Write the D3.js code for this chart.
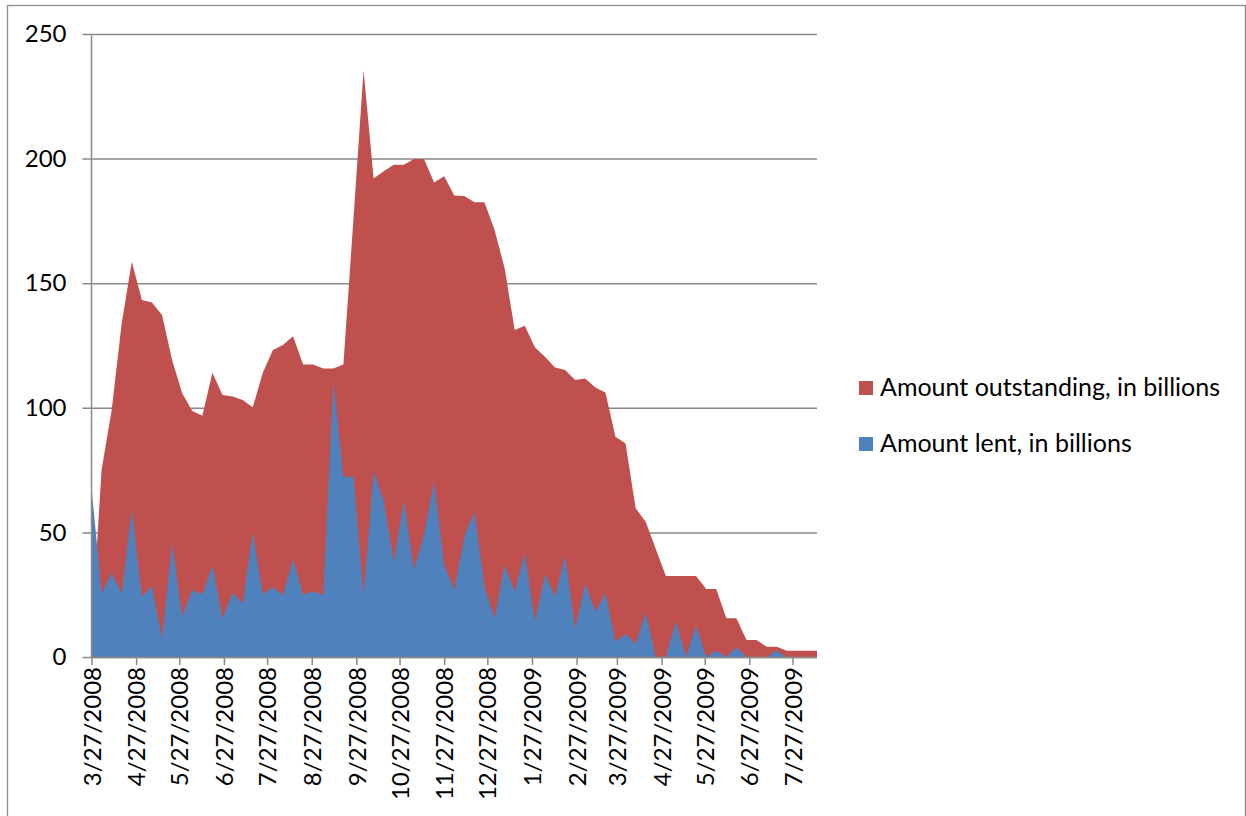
<!DOCTYPE html>
<html>
<head>
<meta charset="utf-8">
<script src="https://cdn.jsdelivr.net/npm/d3@7/dist/d3.min.js"></script>
<style>
  body { margin: 0; background: #fff; }
  svg text { font-family: Lato, "Noto Sans", sans-serif; fill: #000; }
</style>
</head>
<body>
<div id="chart"></div>
<script>
// weekly TSLF figures, billions of dollars
const seriesNames = ["Amount outstanding, in billions", "Amount lent, in billions"];
const seriesColors = ["#C0504D", "#4F81BD"];
const firstWeek = "3/27/2008";

const outstanding = [
  10, 75, 99, 134, 158.6, 143.3, 142.3, 137.2, 119.2, 105.8,
  98.7, 96.8, 114.1, 105.1, 104.5, 103.1, 100.2, 114.1, 123.2, 125.2,
  128.7, 117.4, 117.4, 115.8, 115.8, 117.4, 176, 235.5, 192, 194.9,
  197.5, 197.5, 199.8, 199.8, 190.4, 192.9, 185.2, 185, 182.5, 182.5,
  171.3, 156, 131.2, 132.9, 124.3, 120.5, 116.2, 115.2, 111.2, 111.8,
  108.1, 106.1, 88.4, 85.7, 59.7, 54.3, 43.3, 32.5, 32.5, 32.5,
  32.5, 27.3, 27.3, 15.5, 15.5, 6.8, 6.8, 4.1, 4.1, 2.5,
  2.5, 2.5, 2.5
];

const lent = [
  68, 25.6, 33.6, 25.6, 59, 24.2, 28.5, 7.5, 45.6, 16.5,
  26.9, 25.2, 36.5, 15.5, 25.8, 21.5, 49.9, 25.3, 28, 24.9,
  39.2, 24.9, 26.4, 24.9, 110.6, 72.2, 72.4, 24.9, 74.4, 62.6,
  38.2, 62.6, 35.1, 49.2, 70.5, 37, 27, 48.3, 58.3, 28.2,
  15.5, 36.9, 26.2, 41.6, 14.2, 33.3, 24.2, 40.5, 11.5, 29.6,
  18.2, 25.6, 6.2, 9.2, 5.3, 17.9, 0, 0, 14.2, 0,
  12.6, 0, 2.5, 0, 3.9, 0, 0, 0, 2.5, 0,
  0, 0, 0
];

const tickLabels = [
  "3/27/2008", "4/27/2008", "5/27/2008", "6/27/2008", "7/27/2008", "8/27/2008",
  "9/27/2008", "10/27/2008", "11/27/2008", "12/27/2008", "1/27/2009", "2/27/2009",
  "3/27/2009", "4/27/2009", "5/27/2009", "6/27/2009", "7/27/2009"
];
const yTicks = [0, 50, 100, 150, 200, 250];

const W = 1246, H = 816;
const plotL = 91.5, plotR = 817, plotT = 34, plotB = 657;

const parseDate = d3.timeParse("%m/%d/%Y");
const fmtDate = d => (d.getMonth() + 1) + "/" + d.getDate() + "/" + d.getFullYear();
const start = parseDate(firstWeek);
const weeks = d3.range(outstanding.length).map(i => d3.timeDay.offset(start, 7 * i));

const svg = d3.select("#chart").append("svg")
  .attr("width", W).attr("height", H);

// outer chart frame
svg.append("rect")
  .attr("x", 7.5).attr("y", 5.5)
  .attr("width", 1238).attr("height", 830)
  .attr("fill", "none").attr("stroke", "#8c8c8c").attr("stroke-width", 1.3);

const x = d3.scaleTime()
  .domain([start, weeks[weeks.length - 1]])
  .range([plotL, plotR]);
const y = d3.scaleLinear().domain([0, 250]).range([plotB, plotT]);

// gridlines + y ticks
const yAxis = d3.axisLeft(y).tickValues(yTicks).tickSize(-(plotR - plotL)).tickPadding(16);
const gy = svg.append("g").attr("transform", `translate(${plotL},0)`).call(yAxis);
gy.select(".domain").remove();
gy.selectAll(".tick line")
  .attr("x1", -9).attr("x2", plotR - plotL)
  .attr("stroke", "#8a8a8a").attr("stroke-width", 1.5);
gy.selectAll(".tick text")
  .attr("x", -25)
  .style("font-size", "24px")
  .attr("font-family", null);

// areas, outstanding behind lent
const area = d3.area()
  .x(d => x(d.date))
  .y0(y(0))
  .y1(d => y(d.v));

[outstanding, lent].forEach((vals, k) => {
  const pts = vals.map((v, i) => ({date: weeks[i], v: v}));
  svg.append("path")
    .datum(pts)
    .attr("d", area)
    .attr("fill", seriesColors[k]);
});

// axis lines
svg.append("line")
  .attr("x1", plotL).attr("x2", plotL).attr("y1", plotT).attr("y2", plotB)
  .attr("stroke", "#8a8a8a").attr("stroke-width", 1.5);

const xAxis = d3.axisBottom(x)
  .tickValues(tickLabels.map(parseDate))
  .tickFormat(fmtDate)
  .tickSize(8)
  .tickSizeOuter(0);
const gx = svg.append("g").attr("transform", `translate(0,${plotB})`).call(xAxis);
gx.select(".domain")
  .attr("d", `M${plotL},0.5H${plotR}`)
  .attr("stroke", "#8a8a8a").attr("stroke-width", 1.5);
gx.selectAll(".tick line").attr("stroke", "#8a8a8a").attr("stroke-width", 1.5);
gx.selectAll(".tick text")
  .attr("font-family", null)
  .style("font-size", "24px")
  .attr("text-anchor", "end")
  .attr("transform", "rotate(-90)")
  .attr("x", -10)
  .attr("y", 0)
  .attr("dy", "0.36em");

// legend
const legend = svg.append("g").attr("transform", "translate(859,381)");
seriesNames.forEach((name, k) => {
  const g = legend.append("g").attr("transform", `translate(0,${k * 56})`);
  g.append("rect").attr("width", 14).attr("height", 14).attr("fill", seriesColors[k]);
  g.append("text")
    .attr("x", 21).attr("y", 15)
    .style("font-size", "25px")
    .text(name);
});
</script>
</body>
</html>
